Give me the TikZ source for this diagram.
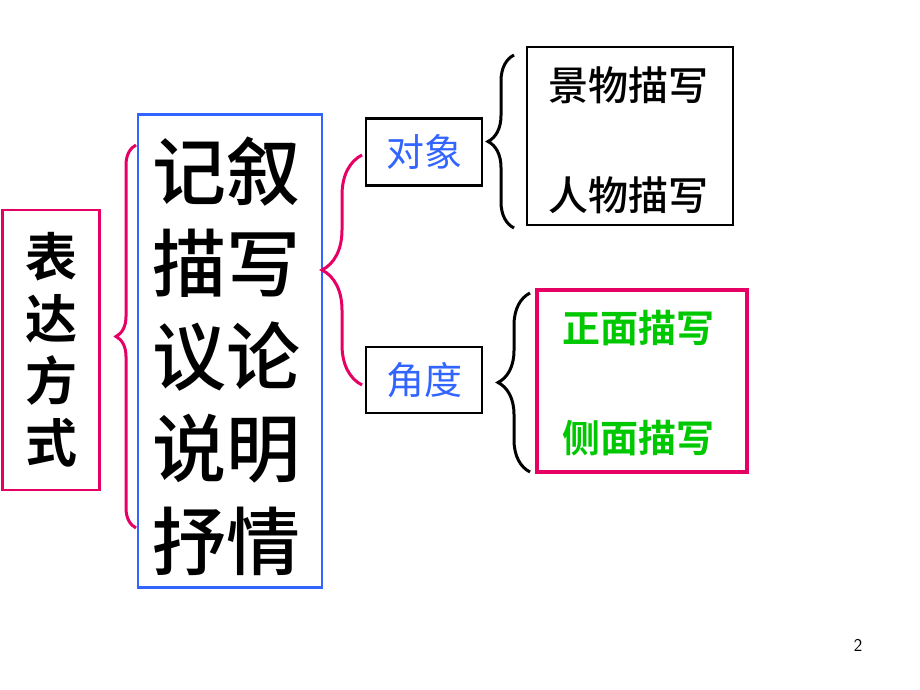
\documentclass[tikz,border=0pt]{standalone}
\usepackage{fontspec}
\newfontfamily\cjk{Noto Sans CJK SC}
\newfontfamily\cjkm{Noto Sans CJK SC Medium}
\newfontfamily\cjkb{Noto Sans CJK SC Bold}
\usetikzlibrary{decorations.pathreplacing}
\definecolor{pk}{RGB}{230,0,100}
\definecolor{bl}{RGB}{50,100,255}
\definecolor{gr}{RGB}{0,200,0}
\begin{document}
\begin{tikzpicture}[x=1pt,y=-1pt,
 br/.style={decorate,decoration={brace,amplitude=#1},line width=3pt},
 bx/.style={draw,line width=2.5pt,inner sep=0pt}]
\useasboundingbox (0,0) rectangle (920,690);
\node[bx,draw=pk,minimum width=97,minimum height=280] (a) at (51,350) {};
\node[font=\cjkb\fontsize{52}{62}\selectfont,align=center] (at) at (51,350) {表\\达\\方\\式};
\node[bx,draw=bl,minimum width=184,minimum height=473] (b) at (230,351) {};
\node[font=\cjkm\fontsize{74}{92.5}\selectfont,align=center] (bt) at (226,356) {记叙\\描写\\议论\\说明\\抒情};
\draw[br=20pt,pk] (136,528) -- (136,145);
\draw[br=40pt,pk] (362,385) -- (362,155);
\node[bx,draw=black,minimum width=116,minimum height=67,font=\cjk\fontsize{38}{40}\selectfont,text=bl] (c) at (424,152) {对象};
\node[bx,draw=black,minimum width=116,minimum height=66,font=\cjk\fontsize{38}{40}\selectfont,text=bl] (d) at (424,380) {角度};
\draw[br=26pt,black] (514,228) -- (514,55);
\draw[br=32pt,black] (530,472) -- (530,293);
\node[bx,draw=black,minimum width=206,minimum height=178] (e) at (630,136) {};
\node[font=\cjkm\fontsize{40}{44}\selectfont] (e1) at (628,85) {景物描写};
\node[font=\cjkm\fontsize{40}{44}\selectfont] (e2) at (628,195) {人物描写};
\node[bx,draw=pk,line width=4.5pt,minimum width=210,minimum height=182] (f) at (642,381) {};
\node[font=\cjkb\fontsize{38}{44}\selectfont,text=gr] (f1) at (638,328) {正面描写};
\node[font=\cjkb\fontsize{38}{44}\selectfont,text=gr] (f2) at (638,438) {侧面描写};
\node[font=\fontsize{18}{20}\selectfont\sffamily] (p) at (858,645) {2};
\end{tikzpicture}
\end{document}
